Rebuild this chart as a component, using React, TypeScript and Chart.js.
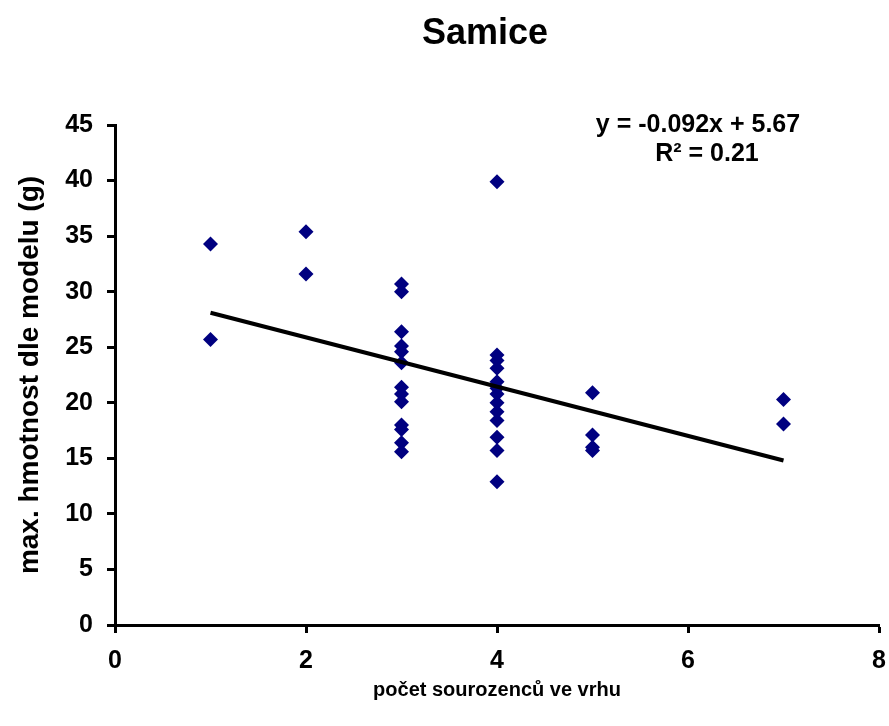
import React, { useEffect, useRef } from "react";
import { Chart, registerables } from "chart.js";

Chart.register(...registerables);

const xOne = [1, 1];
const yOne = [34.3, 25.7];
const xTwo = [2, 2];
const yTwo = [35.4, 31.6];
const xThree = [3, 3, 3, 3, 3, 3, 3, 3, 3, 3, 3, 3, 3];
const yThree = [30.7, 30.0, 26.4, 25.1, 24.6, 23.6, 21.4, 20.8, 20.1, 18.0, 17.6, 16.4, 15.6];
const xFour = [4, 4, 4, 4, 4, 4, 4, 4, 4, 4, 4, 4, 4];
const yFour = [39.9, 24.3, 23.8, 23.1, 21.9, 21.3, 20.8, 20.0, 19.2, 18.4, 16.9, 15.7, 12.9];
const xFive = [5, 5, 5, 5];
const yFive = [20.9, 17.1, 16.0, 15.7];
const xSeven = [7, 7];
const ySeven = [20.3, 18.1];

const trendX = [1, 7];
const trendY = [28.1, 14.8];

const xTicks = [0, 2, 4, 6, 8];
const yTicks = [0, 5, 10, 15, 20, 25, 30, 35, 40, 45];

const titleText = "Samice";
const xTitle = "počet sourozenců ve vrhu";
const yTitle = "max. hmotnost dle modelu (g)";
const eqLine1 = "y = -0.092x + 5.67";
const eqLine2 = "R² = 0.21";

const FONT = "'Liberation Sans', Arial, sans-serif";

export default function App() {
  const ref = useRef<HTMLCanvasElement | null>(null);
  useEffect(() => {
    if (!ref.current) return;
    const pts: { x: number; y: number }[] = [];
    const groups: [number[], number[]][] = [
      [xOne, yOne],
      [xTwo, yTwo],
      [xThree, yThree],
      [xFour, yFour],
      [xFive, yFive],
      [xSeven, ySeven],
    ];
    groups.forEach(([xs, ys]) => xs.forEach((x, i) => pts.push({ x, y: ys[i] })));
    const trend = trendX.map((x, i) => ({ x, y: trendY[i] }));

    const textPlugin = {
      id: "texts",
      afterDraw(chart: any) {
        const ctx = chart.ctx;
        ctx.save();
        ctx.fillStyle = "#000";
        ctx.textAlign = "center";
        ctx.textBaseline = "alphabetic";
        ctx.font = `bold 36px ${FONT}`;
        ctx.fillText(titleText, 485, 44);
        ctx.font = `bold 25px ${FONT}`;
        ctx.fillText(eqLine1, 698, 132);
        ctx.fillText(eqLine2, 707, 161);
        ctx.restore();
      },
    };

    const chart = new Chart(ref.current, {
      type: "scatter",
      data: {
        datasets: [
          {
            label: "trend",
            data: trend,
            showLine: true,
            borderColor: "#000",
            borderWidth: 4,
            pointRadius: 0,
            fill: false,
          } as any,
          {
            label: "data",
            data: pts,
            pointStyle: "rectRot",
            pointRadius: 7.5,
            pointBackgroundColor: "#000080",
            pointBorderColor: "#000080",
            pointBorderWidth: 0,
            showLine: false,
          },
        ],
      },
      options: {
        animation: false,
        responsive: false,
        maintainAspectRatio: false,
        layout: { padding: { top: 125, right: 10, left: 0, bottom: 0 } },
        plugins: {
          legend: { display: false },
          tooltip: { enabled: false },
          title: { display: false },
        },
        scales: {
          x: {
            type: "linear",
            min: 0,
            max: 8,
            afterBuildTicks: (s: any) => {
              s.ticks = xTicks.map((v) => ({ value: v }));
            },
            afterFit: (s: any) => {
              s.height = 101;
              s.paddingRight = 0;
              s.paddingLeft = 0;
            },
            grid: {
              drawOnChartArea: false,
              drawTicks: true,
              tickLength: 8,
              tickColor: "#000",
              tickWidth: 3,
            },
            border: { color: "#000", width: 3 },
            ticks: {
              color: "#000",
              font: { family: FONT, size: 25, weight: "bold" },
              padding: 13,
              maxRotation: 0,
            },
            title: {
              display: true,
              text: xTitle,
              color: "#000",
              font: { family: FONT, size: 20, weight: "bold" },
              padding: { top: 0, bottom: 24 },
            },
          },
          y: {
            type: "linear",
            min: 0,
            max: 45,
            afterBuildTicks: (s: any) => {
              s.ticks = yTicks.map((v) => ({ value: v }));
            },
            afterFit: (s: any) => {
              s.width = 115;
            },
            grid: {
              drawOnChartArea: false,
              drawTicks: true,
              tickLength: 8,
              tickColor: "#000",
              tickWidth: 3,
            },
            border: { color: "#000", width: 3 },
            ticks: {
              color: "#000",
              font: { family: FONT, size: 25, weight: "bold" },
              padding: 14,
            },
            title: {
              display: true,
              text: yTitle,
              color: "#000",
              font: { family: FONT, size: 28, weight: "bold" },
              padding: { top: 13, bottom: 0 },
            },
          },
        },
      },
      plugins: [textPlugin],
    });
    return () => chart.destroy();
  }, []);
  return (
    <div style={{ position: "fixed", left: 0, top: 0, width: 889, height: 726, background: "#fff" }}>
      <canvas ref={ref} width={889} height={726} style={{ width: 889, height: 726, display: "block" }} />
    </div>
  );
}
